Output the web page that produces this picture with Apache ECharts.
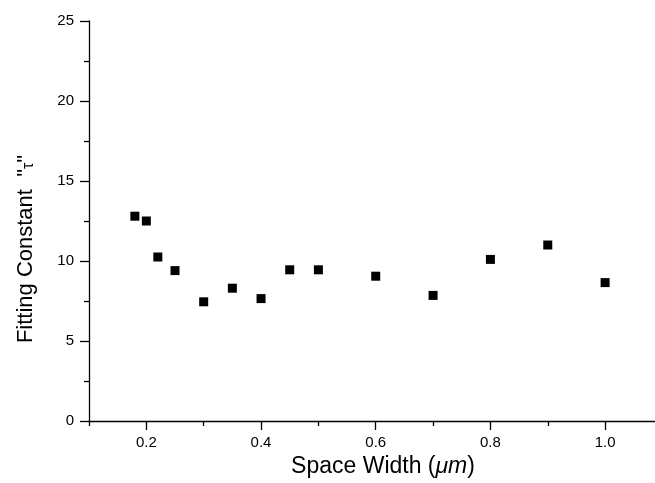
<!DOCTYPE html>
<html>
<head>
<meta charset="utf-8">
<script src="https://cdn.jsdelivr.net/npm/echarts@6/dist/echarts.min.js"></script>
<style>
html,body{margin:0;padding:0;background:#fff;}
#chart{width:655px;height:483px;}
</style>
</head>
<body>
<div id="chart"></div>
<script>
var spaceWidth = [0.18, 0.20, 0.22, 0.25, 0.30, 0.35, 0.40, 0.45, 0.50, 0.60, 0.70, 0.80, 0.90, 1.00];
var tauValues  = [12.8, 12.5, 10.25, 9.4, 7.45, 8.3, 7.65, 9.45, 9.45, 9.05, 7.85, 10.1, 11.0, 8.65];
var xMajorTicks = [0.2, 0.4, 0.6, 0.8, 1.0];
var xMinorTicks = [0.1, 0.3, 0.5, 0.7, 0.9];
var yTicks = [0, 5, 10, 15, 20, 25];

var points = spaceWidth.map(function (x, i) { return [x, tauValues[i]]; });
var FONT = 'Liberation Sans, Arial, sans-serif';

var chart = echarts.init(document.getElementById('chart'), null, {renderer: 'canvas'});
chart.setOption({
  animation: false,
  backgroundColor: '#fff',
  grid: {left: 89, top: 21, bottom: 57, right: 0, containLabel: false},
  xAxis: [{
    type: 'value',
    min: 0.1,
    max: 1.087,
    position: 'bottom',
    axisLine: {show: true, onZero: false, lineStyle: {color: '#000', width: 1.3}},
    axisTick: {show: true, inside: false, length: 9, customValues: xMajorTicks, lineStyle: {color: '#000', width: 1.3}},
    axisLabel: {show: true, customValues: xMajorTicks, margin: 14, color: '#000', fontSize: 15, fontFamily: FONT,
      formatter: function (v) { return v.toFixed(1); }},
    splitLine: {show: false},
    name: 'Space Width ({i|μm})',
    nameLocation: 'middle',
    nameGap: 34,
    nameTextStyle: {color: '#000', fontSize: 23, fontFamily: FONT, padding: [0, 0, 0, 22],
      rich: {i: {fontStyle: 'italic', fontSize: 23, fontFamily: FONT, color: '#000'}}}
  }, {
    type: 'value',
    min: 0.1,
    max: 1.087,
    position: 'bottom',
    axisLine: {show: false},
    axisTick: {show: true, inside: false, length: 5, customValues: xMinorTicks, lineStyle: {color: '#000', width: 1.3}},
    axisLabel: {show: false},
    splitLine: {show: false}
  }],
  yAxis: {
    type: 'value',
    min: 0,
    max: 25,
    interval: 5,
    axisLine: {show: true, onZero: false, lineStyle: {color: '#000', width: 1.3}},
    axisTick: {show: true, inside: false, length: 9, lineStyle: {color: '#000', width: 1.3}},
    minorTick: {show: true, splitNumber: 2, length: 5, lineStyle: {color: '#000', width: 1.3}},
    axisLabel: {margin: 15, color: '#000', fontSize: 15, fontFamily: FONT},
    splitLine: {show: false},
    name: 'Fitting Constant  "{t|τ}"',
    nameLocation: 'middle',
    nameGap: 52,
    nameRotate: 90,
    nameTextStyle: {color: '#000', fontSize: 22, fontFamily: FONT, padding: [0, 56, 0, 0],
      rich: {t: {fontSize: 16, fontFamily: FONT, color: '#000', verticalAlign: 'bottom', padding: [6, 0, 0, 0]}}}
  },
  series: [{
    type: 'scatter',
    xAxisIndex: 0,
    data: points,
    symbol: 'rect',
    symbolSize: 9,
    itemStyle: {color: '#000', opacity: 1}
  }]
});
</script>
</body>
</html>
